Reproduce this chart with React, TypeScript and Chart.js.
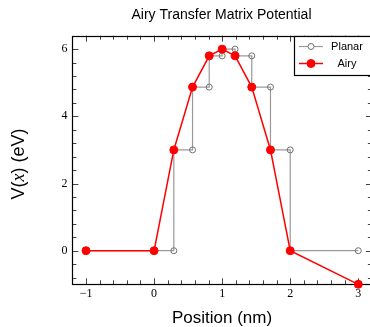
import { useEffect, useRef } from "react";
import { Chart, registerables } from "chart.js";

Chart.register(...registerables);

const planarX = [-1, 0, 0.29, 0.565, 0.81, 1.0, 1.19, 1.435, 1.71, 2.0, 3.0];
const planarV = [0, 0, 0, 3, 4.87, 5.8, 6, 5.8, 4.87, 3, 0];
const airyX = [-1, 0, 0.29, 0.565, 0.81, 1.0, 1.19, 1.435, 1.71, 2.0, 3.0];
const airyV = [0, 0, 3, 4.87, 5.8, 6, 5.8, 4.87, 3, 0, -1];
const xTickValues = [-1, 0, 1, 2, 3];
const yTickValues = [0, 2, 4, 6];
const seriesNames = ["Planar", "Airy"];
const titleText = "Airy Transfer Matrix Potential";
const xTitle = "Position (nm)";

const RED = "#ff0000";
const GRAY_LINE = "#9a9a9a";
const GRAY_MARK = "#707070";
const SANS = "'Liberation Sans', Arial, sans-serif";
const SERIF = "'Liberation Serif', 'Times New Roman', serif";

const fmt = (v: number) => (v < 0 ? "\u2212" + Math.abs(v) : String(v));

const decor = {
  id: "decor",
  beforeDatasetsDraw(chart: any) {
    const { ctx, chartArea: a, scales } = chart;
    const x = scales.x;
    const y = scales.y;
    ctx.save();
    ctx.strokeStyle = "#444";
    ctx.lineWidth = 1;
    ctx.beginPath();
    for (let i = -6; i <= 16; i++) {
      const v = i * 0.2;
      const px = Math.round(x.getPixelForValue(v)) + 0.5;
      if (px <= a.left + 1 || px >= a.right - 1) continue;
      const len = i % 5 === 0 ? 6 : 4;
      ctx.moveTo(px, a.bottom);
      ctx.lineTo(px, a.bottom - len);
      ctx.moveTo(px, a.top);
      ctx.lineTo(px, a.top + len);
    }
    for (let i = -2; i <= 16; i++) {
      const v = i * 0.4;
      const py = Math.round(y.getPixelForValue(v)) + 0.5;
      if (py <= a.top + 1 || py >= a.bottom - 1) continue;
      const len = i % 5 === 0 ? 6 : 4;
      ctx.moveTo(a.left, py);
      ctx.lineTo(a.left + len, py);
      ctx.moveTo(a.right, py);
      ctx.lineTo(a.right - len, py);
    }
    ctx.stroke();
    ctx.strokeStyle = "#000";
    ctx.lineWidth = 1.2;
    ctx.strokeRect(Math.round(a.left) + 0.5, Math.round(a.top) + 0.5, a.right - a.left, Math.round(a.bottom) - Math.round(a.top));
    ctx.restore();
  },
  afterDraw(chart: any) {
    const { ctx, chartArea: a } = chart;
    ctx.save();
    // title
    ctx.fillStyle = "#000";
    ctx.font = "14px " + SANS;
    ctx.textAlign = "center";
    ctx.textBaseline = "alphabetic";
    ctx.fillText(titleText, 221.5, 19);
    // x title
    ctx.font = "17px " + SANS;
    ctx.fillText(xTitle, 222, 323);
    // y title
    ctx.translate(24, 164);
    ctx.rotate(-Math.PI / 2);
    const parts: [string, string][] = [
      ["V", "18px " + SANS],
      ["(", "18px " + SANS],
      ["x", "italic 18px " + SERIF],
      [")", "18px " + SANS],
      [" (eV)", "18px " + SANS],
    ];
    let total = 0;
    for (const [t, f] of parts) {
      ctx.font = f;
      total += ctx.measureText(t).width;
    }
    let cx = -total / 2;
    ctx.textAlign = "left";
    for (const [t, f] of parts) {
      ctx.font = f;
      ctx.fillText(t, cx, 0);
      cx += ctx.measureText(t).width;
    }
    ctx.restore();

    // legend
    ctx.save();
    const lx = 294.5;
    const ly = Math.round(a.top) + 0.5;
    ctx.fillStyle = "#fff";
    ctx.fillRect(lx, ly, 100, 39);
    ctx.strokeStyle = "#000";
    ctx.lineWidth = 1.2;
    ctx.strokeRect(lx, ly, 100, 39);
    const rows = [
      { name: seriesNames[0], y: 46.5, line: GRAY_LINE, lw: 1.2, r: 3, fill: "#fff", stroke: GRAY_MARK },
      { name: seriesNames[1], y: 63.5, line: RED, lw: 1.5, r: 4, fill: RED, stroke: RED },
    ];
    for (const row of rows) {
      ctx.strokeStyle = row.line;
      ctx.lineWidth = row.lw;
      ctx.beginPath();
      ctx.moveTo(299, row.y);
      ctx.lineTo(323, row.y);
      ctx.stroke();
      ctx.beginPath();
      ctx.arc(311, row.y, row.r, 0, Math.PI * 2);
      ctx.fillStyle = row.fill;
      ctx.fill();
      ctx.strokeStyle = row.stroke;
      ctx.lineWidth = 1;
      ctx.stroke();
      ctx.fillStyle = "#000";
      ctx.font = "11px " + SANS;
      ctx.textAlign = "center";
      ctx.textBaseline = "middle";
      ctx.fillText(row.name, 347, row.y);
    }
    ctx.restore();
  },
};

export default function App() {
  const ref = useRef<HTMLCanvasElement | null>(null);
  useEffect(() => {
    if (!ref.current) return;
    const chart = new Chart(ref.current, {
      type: "line",
      data: {
        datasets: [
          {
            label: seriesNames[1],
            data: airyX.map((x, i) => ({ x, y: airyV[i] })),
            borderColor: RED,
            backgroundColor: RED,
            borderWidth: 1.5,
            pointRadius: 4,
            pointBackgroundColor: RED,
            pointBorderColor: RED,
            pointBorderWidth: 1,
            tension: 0,
            clip: false as any,
          },
          {
            label: seriesNames[0],
            data: planarX.map((x, i) => ({ x, y: planarV[i] })),
            borderColor: GRAY_LINE,
            backgroundColor: "#fff",
            borderWidth: 1.2,
            stepped: "after",
            pointRadius: 3,
            pointBackgroundColor: "rgba(255,255,255,0)",
            pointBorderColor: GRAY_MARK,
            pointBorderWidth: 1,
            clip: false as any,
          },
        ],
      },
      options: {
        responsive: false,
        animation: false,
        devicePixelRatio: 1,
        layout: { padding: { left: 0, top: 35.7, right: 8.1, bottom: 0 } },
        plugins: { legend: { display: false }, title: { display: false }, tooltip: { enabled: false } },
        scales: {
          x: {
            type: "linear",
            min: -1.2,
            max: 3.2,
            afterBuildTicks: (s: any) => {
              s.ticks = xTickValues.map((v) => ({ value: v }));
            },
            afterFit: (s: any) => {
              s.height = 42.7;
            },
            grid: { display: false, drawTicks: false },
            border: { display: false },
            ticks: {
              padding: 2,
              maxRotation: 0,
              autoSkip: false,
              color: "#000",
              font: { family: SERIF, size: 12 },
              callback: (v: any) => fmt(Number(v)),
            },
          },
          y: {
            type: "linear",
            min: -1,
            max: 6.4,
            afterBuildTicks: (s: any) => {
              s.ticks = yTickValues.map((v) => ({ value: v }));
            },
            afterFit: (s: any) => {
              s.width = 72.4;
            },
            grid: { display: false, drawTicks: false },
            border: { display: false },
            ticks: {
              padding: 5,
              autoSkip: false,
              color: "#000",
              font: { family: SERIF, size: 12 },
              callback: (v: any) => fmt(Number(v)),
            },
          },
        },
      },
      plugins: [decor],
    });
    return () => chart.destroy();
  }, []);
  return (
    <div style={{ position: "fixed", left: 0, top: 0, width: 370, height: 327, overflow: "hidden", background: "#fff" }}>
      <canvas ref={ref} width={380} height={327} style={{ display: "block", width: 380, height: 327 }} />
    </div>
  );
}
